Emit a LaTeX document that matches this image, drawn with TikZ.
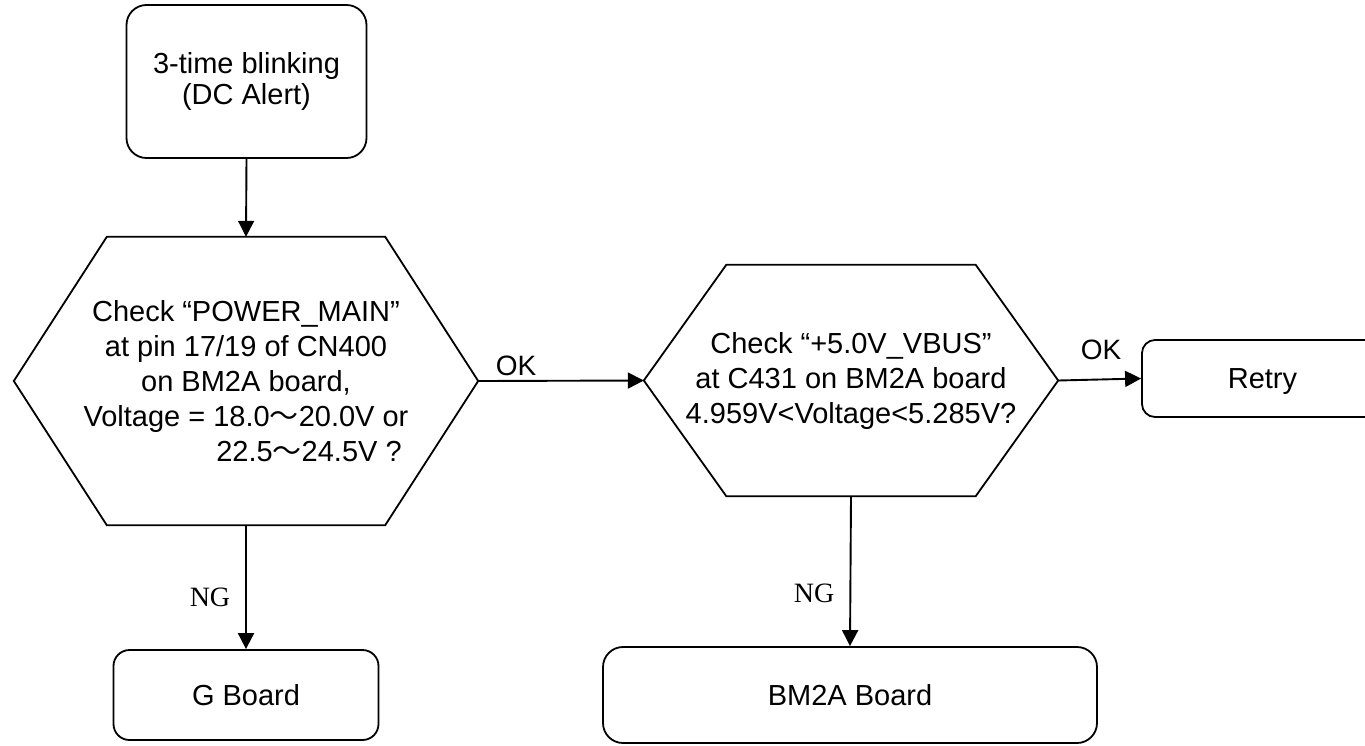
\documentclass[tikz,border=0pt]{standalone}
\usepackage{fontspec}
\setmainfont{Liberation Sans}
\newfontfamily\labelserif{Liberation Serif}
\newfontfamily\cjkfont{Noto Sans CJK SC}
\usetikzlibrary{arrows.meta}
\newcommand\rangetilde{{\cjkfont ～}}

\begin{document}
\begin{tikzpicture}[x=1pt,y=-1pt,
  outline/.style={draw=black, line width=1.8pt},
  roundbox/.style={outline, rounded corners=20pt, inner sep=0pt, align=center,
    font=\fontsize{29}{31}\selectfont},
  hexbody/.style={inner sep=0pt, align=center, font=\fontsize{29}{35}\selectfont},
  flow/.style={line width=1.9pt, -{Triangle[length=16pt,width=16pt]}},
  oklabel/.style={font=\fontsize{28}{30}\selectfont, inner sep=0pt},
  nglabel/.style={font=\fontsize{28}{30}\labelserif, inner sep=0pt}
]
\useasboundingbox (0,0) rectangle (1365,745);
\clip (0,0) rectangle (1365,745);

% start box
\node[roundbox, minimum width=240pt, minimum height=153pt] (start) at (246.5,81.5)
  {3-time blinking\\(DC Alert)};

% first check (hexagon)
\node[hexbody, minimum width=464pt, minimum height=288pt] (chk1) at (246,381)
  {Check “POWER\_MAIN”\\
   at pin 17/19 of CN400\\
   on BM2A board,\\
   Voltage = 18.0\rangetilde20.0V or\\
   \hspace*{126pt}22.5\rangetilde24.5V ?};
\draw[outline, line join=miter]
  (chk1.west) -- ([xshift=93pt]chk1.north west) -- ([xshift=-93pt]chk1.north east)
  -- (chk1.east) -- ([xshift=-93pt]chk1.south east) -- ([xshift=93pt]chk1.south west)
  -- cycle;

% second check (hexagon)
\node[hexbody, minimum width=414pt, minimum height=231pt] (chk2) at (851,380.5)
  {Check “+5.0V\_VBUS”\\
   at C431 on BM2A board\\
   4.959V<Voltage<5.285V?};
\draw[outline, line join=miter]
  (chk2.west) -- ([xshift=82.5pt]chk2.north west) -- ([xshift=-82.5pt]chk2.north east)
  -- (chk2.east) -- ([xshift=-82.5pt]chk2.south east) -- ([xshift=82.5pt]chk2.south west)
  -- cycle;

% result boxes
\node[roundbox, rounded corners=13pt, minimum width=241pt, minimum height=77pt,
  text depth=0pt] (retry) at (1262.5,378.5) {Retry};
\node[roundbox, rounded corners=16pt, minimum width=265pt, minimum height=90pt,
  text depth=0pt] (gboard) at (246,695) {G Board};
\node[roundbox, rounded corners=20pt, minimum width=494pt, minimum height=96pt,
  text depth=0pt] (bmboard) at (850,695) {BM2A Board};

% connectors
\draw[flow] (start.south) -- (chk1.north);
\draw[flow] (chk1.east) -- (chk2.west);
\draw[flow] (chk2.east) -- (retry.west);
\draw[flow] (chk1.south) -- (gboard.north);
\draw[flow] (chk2.south) -- (bmboard.north);

% branch labels
\node[oklabel] (ok1) at (516,366) {OK};
\node[oklabel] (ok2) at (1101,350) {OK};
\node[nglabel] (ng1) at (210,597) {NG};
\node[nglabel] (ng2) at (814,593) {NG};
\end{tikzpicture}
\end{document}
